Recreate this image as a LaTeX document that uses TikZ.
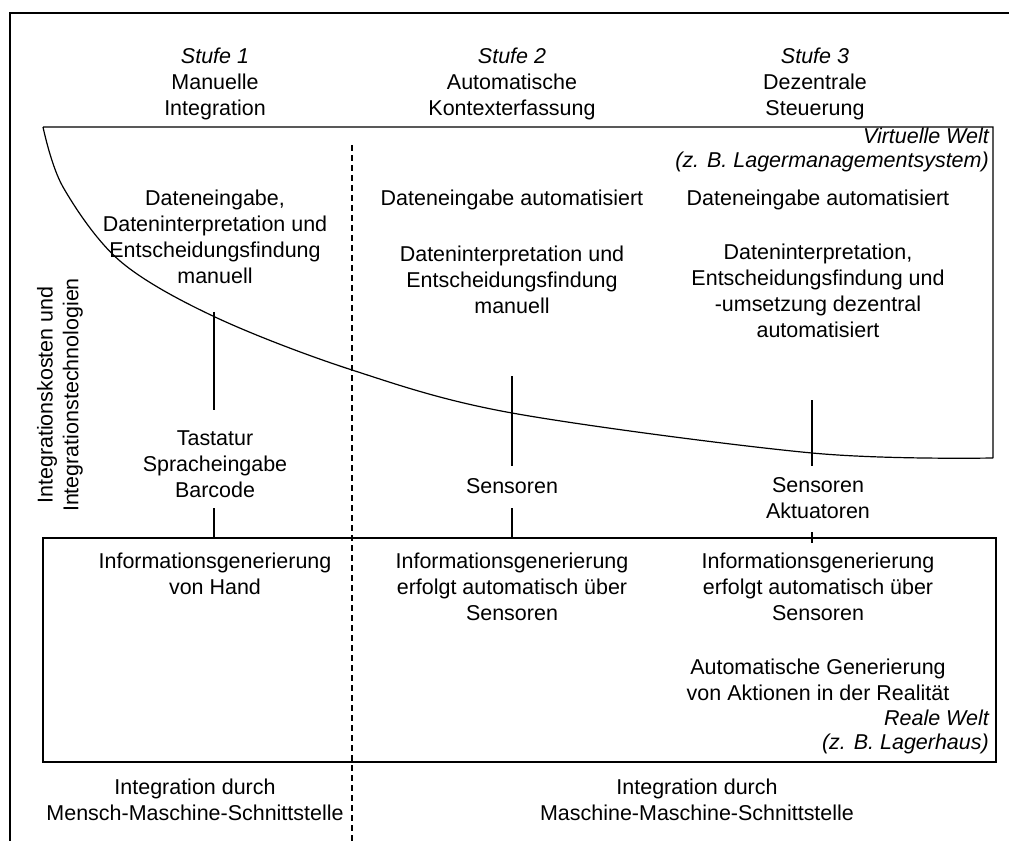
\documentclass[tikz,border=0pt]{standalone}
\usepackage{fontspec}
\setmainfont{Liberation Sans}
\begin{document}
\begin{tikzpicture}[x=0.75pt,y=-0.75pt,
  txt/.style={align=center,inner sep=0pt,font=\fontsize{16.1}{19.4}\selectfont},
  note/.style={align=right,inner sep=0pt,anchor=east,font=\fontsize{16.1}{18.2}\selectfont\itshape},
  frame/.style={line width=1.5pt},
  edge/.style={line width=0.9pt},
  link/.style={line width=1pt},
  divider/.style={line width=0.8pt,dash pattern=on 4.5pt off 3pt}]
\useasboundingbox (0,0) rectangle (1009,841);

% outer frame (only top and left edges are visible)
\draw[frame] (10,846) -- (10,13) -- (1014,13);

% virtual world: straight top and right side, falling cost curve below
\draw[edge] (43,127) -- (993,127) -- (993,458)
  plot[smooth,tension=0.55] coordinates {(993,458) (812,453) (512,413) (352,370) (215,317) (120,261) (63,187) (43,127)};

% real world box
\draw[edge] (43,538) rectangle (996,762);

% separator between manual and machine integration
\draw[divider] (352,145) -- (352,841);

% column headings
\node[txt] (h1) at (215,84) {\textit{Stufe 1}\\Manuelle\\Integration};
\node[txt] (h2) at (512,84) {\textit{Stufe 2}\\Automatische\\Kontexterfassung};
\node[txt] (h3) at (815,84) {\textit{Stufe 3}\\Dezentrale\\Steuerung};

% virtual world texts
\node[note] (vw) at (989,150) {Virtuelle Welt\\(z. B. Lagermanagementsystem)};
\node[txt] (t1) at (215,237) {Dateneingabe,\\Dateninterpretation und\\Entscheidungsfindung\\manuell};
\node[txt] (t2a) at (512,200) {Dateneingabe automatisiert};
\node[txt] (t2b) at (512,280) {Dateninterpretation und\\Entscheidungsfindung\\manuell};
\node[txt] (t3a) at (818,200) {Dateneingabe automatisiert};
\node[txt] (t3b) at (818,291) {Dateninterpretation,\\Entscheidungsfindung und\\-umsetzung dezentral\\automatisiert};

% integration technologies
\node[txt] (k1) at (215,464) {Tastatur\\Spracheingabe\\Barcode};
\node[txt] (k2) at (512,486) {Sensoren};
\node[txt] (k3) at (818,498) {Sensoren\\Aktuatoren};

% real world texts
\node[txt] (r1) at (215,574) {Informationsgenerierung\\von Hand};
\node[txt] (r2) at (512,587) {Informationsgenerierung\\erfolgt automatisch über\\Sensoren};
\node[txt] (r3) at (818,587) {Informationsgenerierung\\erfolgt automatisch über\\Sensoren};
\node[txt] (r3b) at (818,680) {Automatische Generierung\\von Aktionen in der Realität};
\node[note] (rw) at (989,732) {Reale Welt\\(z. B. Lagerhaus)};

% interface types
\node[txt] (b1) at (195,800) {Integration durch\\Mensch-Maschine-Schnittstelle};
\node[txt] (b2) at (697,800) {Integration durch\\Maschine-Maschine-Schnittstelle};

% axis caption
\node[txt,rotate=90] (ax) at (60,395) {Integrationskosten und\\Integrationstechnologien};

% connector end points
\coordinate (c1a) at (214,312);
\coordinate (c1b) at (214,410);
\coordinate (c1c) at (214,508);
\coordinate (c1d) at (214,538);
\coordinate (c2a) at (512,376);
\coordinate (c2b) at (512,466);
\coordinate (c2c) at (512,508);
\coordinate (c2d) at (512,538);
\coordinate (c3a) at (812,400);
\coordinate (c3b) at (812,466);
\coordinate (c3c) at (812,532);
\coordinate (c3d) at (812,543);

\draw[link] (c1a) -- (c1b);
\draw[link] (c1c) -- (c1d);
\draw[link] (c2a) -- (c2b);
\draw[link] (c2c) -- (c2d);
\draw[link] (c3a) -- (c3b);
\draw[link] (c3c) -- (c3d);
\end{tikzpicture}
\end{document}
